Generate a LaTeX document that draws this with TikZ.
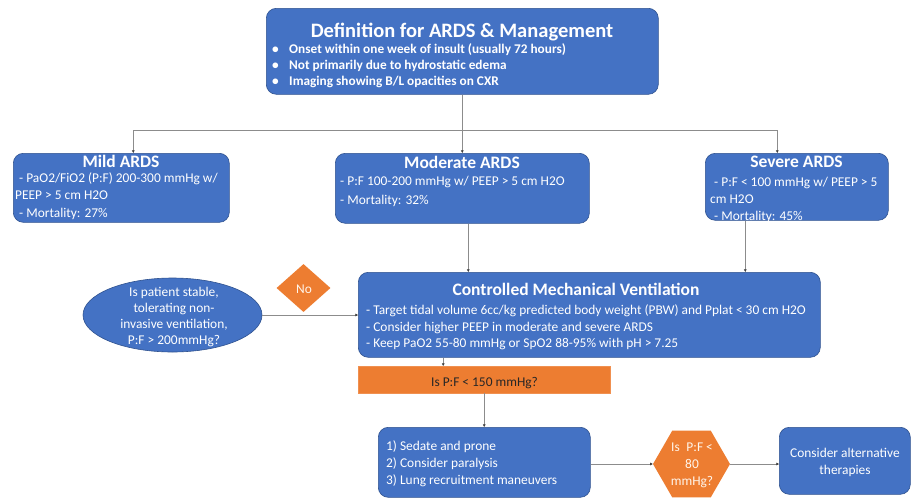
\documentclass[tikz,border=0pt]{standalone}
\usepackage{fontspec}
\setmainfont{Carlito}
\usetikzlibrary{shapes.geometric,arrows.meta}
\definecolor{ablue}{HTML}{4472C4}
\definecolor{bedge}{HTML}{2F528F}
\definecolor{aorange}{HTML}{ED7D31}
\definecolor{lgray}{HTML}{8C8C8C}
\newcommand{\myline}[5][]{\node[bodytext,#1] (#2) at (#3,#4) {#5};}
\begin{document}
\begin{tikzpicture}[x=1pt,y=-1pt,
  bluebox/.style={draw=bedge, line width=0.6pt, fill=ablue, rounded corners=10pt, inner sep=0pt, anchor=north west},
  orect/.style={fill=aorange, draw=aorange!85!white, line width=0.4pt, inner sep=0pt, anchor=north west},
  conn/.style={draw=lgray, line width=0.6pt, -{Triangle[length=2.6pt,width=2.6pt,color=black!75]}},
  bodytext/.style={text=white, font=\fontsize{13.4}{15}\selectfont, inner sep=0pt, anchor=base west},
  titletext/.style={text=white, font=\bfseries\fontsize{17.5}{19}\selectfont, inner sep=0pt, anchor=base},
  bullettext/.style={text=white, font=\bfseries\fontsize{13.3}{15}\selectfont, inner sep=0pt, anchor=base west}]
\useasboundingbox[fill=white] (0,0) rectangle (912,499);

% boxes
\node[bluebox, minimum width=392pt, minimum height=86pt] (top) at (266,8) {};
\node[bluebox, minimum width=216pt, minimum height=69pt] (mild) at (13,153) {};
\node[bluebox, minimum width=254pt, minimum height=70pt] (mod) at (335,153) {};
\node[bluebox, minimum width=183pt, minimum height=67pt] (sev) at (705,153) {};
\node[bluebox, minimum width=462pt, minimum height=85pt] (cmv) at (358,272) {};
\node[ellipse, draw=bedge, line width=0.6pt, fill=ablue, minimum width=179pt, minimum height=74pt, inner sep=0pt] (ell) at (172.5,315) {};
\node[diamond, fill=aorange, minimum width=54pt, minimum height=48pt, inner sep=0pt] (no) at (303.5,288) {};
\node[orect, minimum width=252pt, minimum height=27pt] (q1) at (358,366) {};
\node[bluebox, minimum width=212pt, minimum height=70pt] (act) at (378,427) {};
\node[regular polygon, regular polygon sides=6, minimum size=77pt, fill=aorange, inner sep=0pt] (hex) at (691.5,464) {};
\node[bluebox, minimum width=131pt, minimum height=67pt] (alt) at (779,427) {};

% top text
\node[titletext, font=\bfseries\fontsize{20.5}{22}\selectfont] (topT) at (462,37) {Definition for ARDS \& Management};
\myline[bullettext]{topB1}{272}{53}{\makebox[17pt][l]{•}Onset within one week of insult (usually 72 hours)}
\myline[bullettext]{topB2}{272}{69}{\makebox[17pt][l]{•}Not primarily due to hydrostatic edema}
\myline[bullettext]{topB3}{272}{85}{\makebox[17pt][l]{•}Imaging showing B/L opacities on CXR}

% mild
\node[titletext] (mildT) at (121,167) {Mild ARDS};
\myline{mildL1}{19}{182}{- PaO2/FiO2 (P:F) 200-300 mmHg w/}
\myline{mildL2}{15}{199}{PEEP > 5 cm H2O}
\myline{mildL3}{19}{217}{- Mortality: 27\%}

% moderate
\node[titletext] (modT) at (462,168) {Moderate ARDS};
\myline{modL1}{340}{185}{- P:F 100-200 mmHg w/ PEEP > 5 cm H2O}
\myline{modL2}{340}{204}{- Mortality: 32\%}

% severe
\node[titletext] (sevT) at (796.5,167) {Severe ARDS};
\myline{sevL1}{714}{186}{- P:F < 100 mmHg w/ PEEP > 5}
\myline{sevL2}{710}{203}{cm H2O}
\myline{sevL3}{714}{220}{- Mortality: 45\%}

% cmv
\node[titletext] (cmvT) at (576,295) {Controlled Mechanical Ventilation};
\myline{cmvL1}{366}{314}{- Target tidal volume 6cc/kg predicted body weight (PBW) and Pplat < 30 cm H2O}
\myline{cmvL2}{366}{331}{- Consider higher PEEP in moderate and severe ARDS}
\myline{cmvL3}{366}{347}{- Keep PaO2 55-80 mmHg or SpO2 88-95\% with pH > 7.25}

% ellipse text
\node[bodytext, anchor=base] (ellL1) at (174,296) {Is patient stable,};
\node[bodytext, anchor=base] (ellL2) at (174,312) {tolerating non-};
\node[bodytext, anchor=base] (ellL3) at (174,328) {invasive ventilation,};
\node[bodytext, anchor=base] (ellL4) at (174,344) {P:F > 200mmHg?};

% No
\node[bodytext, anchor=base, text=white!92!orange] (noT) at (304,293) {No};

% q1
\node[bodytext, anchor=base, text=black!85] (q1T) at (484.5,386) {Is P:F < 150 mmHg?};

% action
\myline{actL1}{386}{450}{1) Sedate and prone}
\myline{actL2}{386}{467}{2) Consider paralysis}
\myline{actL3}{386}{484}{3) Lung recruitment maneuvers}

% hex text
\node[bodytext, anchor=base, text=white!92!orange] (hexL1) at (692,451) {Is\enspace P:F <};
\node[bodytext, anchor=base, text=white!92!orange] (hexL2) at (692,468) {80};
\node[bodytext, anchor=base, text=white!92!orange] (hexL3) at (692,485) {mmHg?};

% alt text
\node[bodytext, anchor=base] (altL1) at (845,457) {Consider alternative};
\node[bodytext, anchor=base] (altL2) at (845,474) {therapies};

% connectors
\coordinate (jn) at (462,130);
\draw[conn] (top.south) -- (mod.north);
\draw[conn] (jn) -| ([xshift=12pt]mild.north);
\draw[conn] (jn) -| ([xshift=-19.5pt]sev.north);
\draw[conn] ([xshift=6pt]mod.south) -- ([xshift=6pt]mod.south |- cmv.north);
\draw[conn] ([xshift=-51.5pt]sev.south) -- ([xshift=-51.5pt]sev.south |- cmv.north);
\draw[conn] (ell.east) -- (ell.east -| cmv.west);
\draw[conn] ([xshift=-41pt]q1.north |- cmv.south) -- ([xshift=-41pt]q1.north);
\draw[conn] (q1.south) -- (q1.south |- act.north);
\draw[conn] (act.east |- hex.west) -- (hex.west);
\draw[conn] (hex.east) -- (hex.east -| alt.west);
\end{tikzpicture}
\end{document}
